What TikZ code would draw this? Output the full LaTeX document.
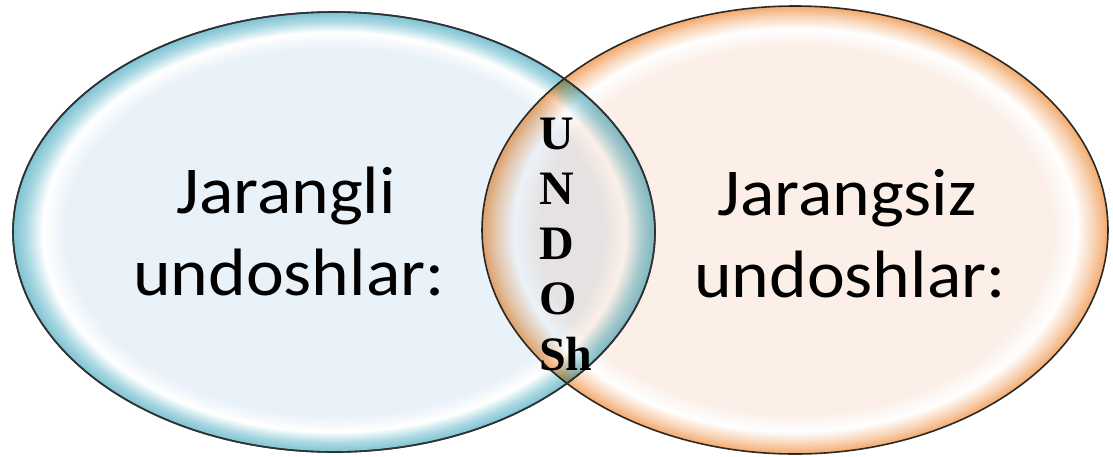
\documentclass[tikz,border=0pt]{standalone}
\usepackage{fontspec}
\usetikzlibrary{shapes.geometric}
\newfontfamily\labelfont[FakeStretch=1.07]{Carlito}
\newfontfamily\letterfont{Liberation Serif}
\definecolor{bin}{HTML}{EAF2F9}
\definecolor{bmid}{HTML}{A9D8E2}
\definecolor{brim}{HTML}{7FC2D2}
\definecolor{oin}{HTML}{FBEFE8}
\definecolor{omid}{HTML}{F8CFAE}
\definecolor{orim}{HTML}{F2A96C}
\definecolor{edge}{HTML}{2E3436}
\pgfdeclareradialshading{bluebub}{\pgfpoint{0bp}{0bp}}{color(0bp)=(bin); color(21bp)=(bin); color(22.7bp)=(white); color(24bp)=(bmid); color(25bp)=(brim); color(50bp)=(brim)}
\pgfdeclareradialshading{orangebub}{\pgfpoint{0bp}{0bp}}{color(0bp)=(oin); color(20.5bp)=(oin); color(22.5bp)=(white); color(24bp)=(omid); color(25bp)=(orim); color(50bp)=(orim)}
\tikzset{
  bubble/.style={ellipse, inner sep=0pt, draw=edge, line width=1.6pt},
  bigtext/.style={font=\labelfont\fontsize{67}{82}\selectfont, inner sep=0pt, anchor=base, text=black},
  letter/.style={font=\letterfont\bfseries\fontsize{48}{55}\selectfont, inner sep=0pt, anchor=base west, text=black}
}
\begin{document}
\begin{tikzpicture}[x=1pt,y=-1pt]
\useasboundingbox (0,0) rectangle (1113,456);
\node[bubble, shade, shading=bluebub, minimum width=642pt, minimum height=440pt] (left) at (334,232) {};
\begin{scope}[blend mode=multiply]
\node[bubble, shade, shading=orangebub, minimum width=626pt, minimum height=448pt] (right) at (795,230) {};
\end{scope}
\node[bubble, fill=none, draw=edge, minimum width=642pt, minimum height=440pt] (leftedge) at (334,232) {};
\node[bigtext] (l1) at (286,213) {Jarangli};
\node[bigtext] (l2) at (289,295) {undoshlar:};
\node[bigtext] (r1) at (847,215) {Jarangsiz};
\node[bigtext] (r2) at (850,297) {undoshlar:};
\node[letter] (cU) at (539,149) {U};
\node[letter] (cN) at (539,204) {N};
\node[letter] (cD) at (539,259) {D};
\node[letter] (cO) at (539,314) {O};
\node[letter] (cSh) at (539,370) {Sh};
\end{tikzpicture}
\end{document}
